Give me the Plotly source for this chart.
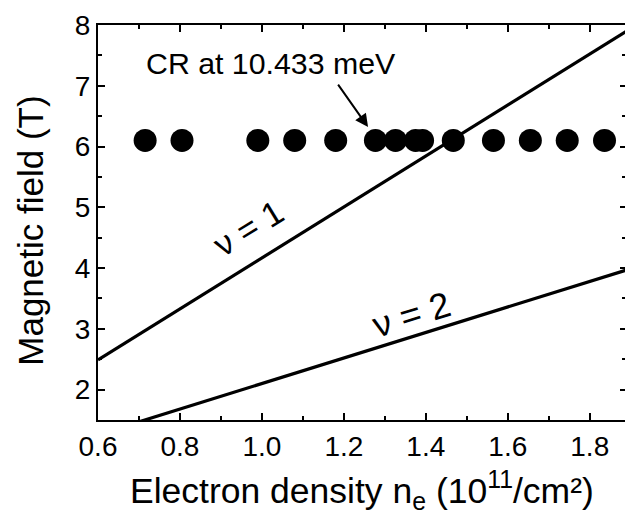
import plotly.graph_objects as go

# Data
cr_density = [0.715, 0.805, 0.99, 1.08, 1.18, 1.277, 1.326, 1.375, 1.392, 1.467, 1.565, 1.655, 1.745, 1.836]
cr_field = [6.1] * len(cr_density)

nu1_x = [0.6, 1.9]
nu1_y = [2.49, 7.94]
nu2_x = [0.6, 1.9]
nu2_y = [1.26, 3.99]

x_ticks = [0.6, 0.8, 1.0, 1.2, 1.4, 1.6, 1.8]
x_ticklabels = ["0.6", "0.8", "1.0", "1.2", "1.4", "1.6", "1.8"]
y_ticks = [2, 3, 4, 5, 6, 7, 8]

FONT = "Liberation Sans, Arial, sans-serif"

fig = go.Figure()
fig.add_trace(go.Scatter(x=nu1_x, y=nu1_y, mode="lines",
                         line=dict(color="black", width=3.2), showlegend=False))
fig.add_trace(go.Scatter(x=nu2_x, y=nu2_y, mode="lines",
                         line=dict(color="black", width=3.2), showlegend=False))
fig.add_trace(go.Scatter(x=cr_density, y=cr_field, mode="markers",
                         marker=dict(color="black", size=23, line=dict(width=0)),
                         showlegend=False))

axis_common = dict(
    showline=True, linecolor="black", linewidth=2,
    ticks="inside", ticklen=7, tickwidth=2, tickcolor="black",
    showgrid=False, zeroline=False,
    tickfont=dict(family=FONT, size=28, color="black"),
)

fig.update_layout(
    width=625, height=514,
    margin=dict(l=98, r=0, t=25, b=94),
    paper_bgcolor="white", plot_bgcolor="white",
    font=dict(family=FONT, color="black"),
    xaxis=dict(range=[0.6, 1.886], tickvals=x_ticks, ticktext=x_ticklabels,
               mirror="ticks",
               minor=dict(ticks="inside", ticklen=4, tickwidth=1.5, dtick=0.1, tick0=0.6, tickcolor="black"),
               **axis_common),
    yaxis=dict(range=[1.5, 8], tickvals=y_ticks, mirror=False,
               minor=dict(ticks="inside", ticklen=4, tickwidth=1.5, dtick=0.5, tick0=1.5, tickcolor="black"),
               **axis_common),
    yaxis2=dict(range=[1.5, 8], overlaying="y", side="right", matches="y",
                tickvals=y_ticks, showticklabels=False, showline=False,
                ticks="inside", ticklen=5, tickwidth=2, tickcolor="black",
                showgrid=False, zeroline=False,
                minor=dict(ticks="inside", ticklen=3, tickwidth=1.5, dtick=0.5, tick0=1.5, tickcolor="black")),
)
# invisible trace so the right-hand tick axis is drawn
fig.add_trace(go.Scatter(x=[0.6], y=[1.5], yaxis="y2", mode="markers",
                         marker=dict(opacity=0), showlegend=False, hoverinfo="skip"))

# Axis titles
fig.add_annotation(text="Electron density n<sub>e</sub> (10<sup>11</sup>/cm²)",
                   xref="paper", yref="paper", x=0.5, y=-0.112,
                   xanchor="center", yanchor="top", showarrow=False,
                   font=dict(family=FONT, size=35.5, color="black"))
fig.add_annotation(text="Magnetic field (T)", textangle=-90,
                   xref="paper", yref="paper", x=-0.128, y=0.478,
                   xanchor="center", yanchor="middle", showarrow=False,
                   font=dict(family=FONT, size=35, color="black"))

# nu labels
fig.add_annotation(text="ν = 1", x=0.967, y=4.66, xref="x", yref="y",
                   textangle=-31.5, showarrow=False,
                   font=dict(family=FONT, size=34, color="black"))
fig.add_annotation(text="ν = 2", x=1.364, y=3.23, xref="x", yref="y",
                   textangle=-17, showarrow=False,
                   font=dict(family=FONT, size=36, color="black"))

# CR label and arrow
fig.add_annotation(text="CR at 10.433 meV", x=1.023, y=7.36, xref="x", yref="y",
                   showarrow=False, font=dict(family=FONT, size=30.3, color="black"))
fig.add_annotation(text="", x=1.259, y=6.32, xref="x", yref="y",
                   showarrow=True, ax=-31, ay=-44, axref="pixel", ayref="pixel",
                   arrowhead=2, arrowsize=1.3, arrowwidth=2, arrowcolor="black")

fig.write_html("out.html")
